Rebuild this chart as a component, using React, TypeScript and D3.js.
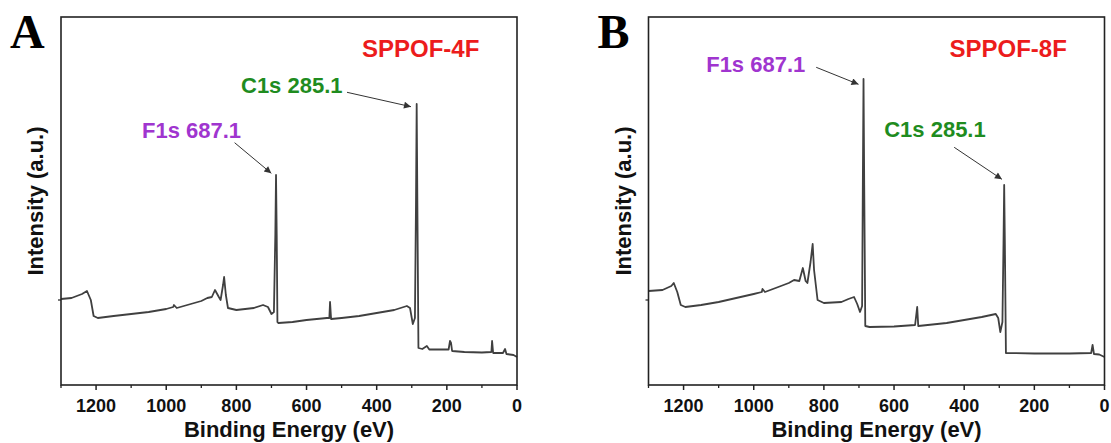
import React from 'react'
import * as d3 from 'd3'

// binding energy (eV), intensity (a.u.)
const spectrum4F: [number, number][] = [
  [1300, 86], [1270, 87], [1240, 91], [1226, 94], [1215, 85], [1207, 69], [1195, 67],
  [1150, 69], [1100, 71], [1050, 73], [1000, 76], [980, 78], [978, 80], [970, 77],
  [930, 81], [900, 84], [883, 87], [870, 88], [861, 95], [850, 88], [845, 85],
  [838, 100], [835, 108], [830, 90], [824, 77], [800, 75], [750, 77], [724, 80],
  [710, 78], [700, 71], [693, 73], [689, 150], [687, 210], [685, 150], [683, 63],
  [680, 62], [640, 63], [600, 65], [542, 67], [535, 67], [533, 83], [530, 66],
  [500, 67], [450, 69], [400, 72], [350, 75], [314, 79], [305, 77], [297, 61],
  [291, 67], [288, 180], [286, 281], [284, 180], [281, 37], [270, 36], [257, 39],
  [250, 35.5], [195, 35.5], [191, 44], [188, 42], [185, 34], [150, 33], [100, 32.5],
  [73, 33], [71, 44], [68, 32], [40, 32], [34, 36], [30, 31], [10, 30], [0, 28],
]

const spectrum8F: [number, number][] = [
  [1300, 94], [1260, 95], [1235, 99], [1228, 102], [1218, 93], [1208, 80], [1195, 78],
  [1150, 80], [1100, 83], [1050, 87], [1000, 91], [977, 93], [975, 96], [968, 93],
  [930, 98], [900, 102], [885, 105], [870, 104], [860, 117], [852, 104], [847, 102],
  [838, 123], [832, 141], [828, 115], [818, 85], [800, 82], [750, 83], [730, 86],
  [714, 88], [705, 81], [697, 73], [691, 79], [689, 200], [687, 306], [685, 200],
  [682, 59], [670, 58], [600, 58.5], [540, 60], [534, 78], [531, 59], [450, 62],
  [400, 65], [350, 68], [310, 71], [303, 67], [297, 53], [291, 63], [288, 140],
  [286, 200], [284, 140], [281, 32], [200, 31.5], [100, 31.5], [38, 32], [34, 40],
  [30, 31], [15, 30.5], [0, 28],
]

const energyTicks = [1200, 1000, 800, 600, 400, 200, 0]
const minorTicks = [1300, 1100, 900, 700, 500, 300, 100]

const GREEN = '#1f8c1f'
const PURPLE = '#a035cf'
const RED = '#ec1c1c'

const panels = [
  {
    letter: 'A',
    sample: 'SPPOF-4F',
    data: spectrum4F,
    left: 61,
    notes: [
      { text: 'C1s 285.1', color: GREEN, x: 180, y: 75.5, from: [286, 75.3], to: [350, 89.7] },
      { text: 'F1s 687.1', color: PURPLE, x: 81, y: 121, from: [173.6, 125.7], to: [210.3, 156.3] },
    ],
  },
  {
    letter: 'B',
    sample: 'SPPOF-8F',
    data: spectrum8F,
    left: 648.5,
    notes: [
      { text: 'F1s 687.1', color: PURPLE, x: 57.7, y: 55.3, from: [167.7, 50.3], to: [210, 67.3] },
      { text: 'C1s 285.1', color: GREEN, x: 235.7, y: 119.7, from: [305.7, 130.3], to: [353.4, 162.3] },
    ],
  },
]

const W = 456
const H = 368
const TOP = 17
const sans = '"Liberation Sans", Arial, sans-serif'

const Panel = ({ p }: { p: (typeof panels)[number] }) => {
  const x = d3.scaleLinear().domain([1300, 0]).range([0, W])
  const y = d3.scaleLinear().domain([0, 368]).range([H, 0])
  const path = d3
    .line<[number, number]>()
    .x((d) => x(d[0]))
    .y((d) => y(d[1]))(p.data)

  return (
    <g transform={`translate(${p.left},${TOP})`}>
      <text x={-51} y={31} fontFamily='"Liberation Serif", "Times New Roman", serif' fontWeight="bold" fontSize={48} fill="#000">
        {p.letter}
      </text>
      <path d={path || ''} fill="none" stroke="#404040" strokeWidth={1.8} strokeLinejoin="round" />
      <rect x={0} y={0} width={W} height={H} fill="none" stroke="#222" strokeWidth={1.6} />
      <line x1={0} x2={-3} y1={y(85)} y2={y(85)} stroke="#222" strokeWidth={1.2} />
      {energyTicks.map((t) => (
        <g key={t} transform={`translate(${x(t)},${H})`}>
          <line y2={5} stroke="#222" strokeWidth={1.5} />
          <text y={26.7} textAnchor="middle" fontFamily={sans} fontWeight="bold" fontSize={18} fill="#111">
            {t}
          </text>
        </g>
      ))}
      {minorTicks.map((t) => (
        <line key={t} x1={x(t)} x2={x(t)} y1={H} y2={H + 3} stroke="#222" strokeWidth={1.3} />
      ))}
      <text x={W / 2} y={H + 52} textAnchor="middle" fontFamily={sans} fontWeight="bold" fontSize={22} fill="#111">
        Binding Energy (eV)
      </text>
      <text
        transform={`translate(-18,${H / 2}) rotate(-90)`}
        textAnchor="middle"
        fontFamily={sans}
        fontWeight="bold"
        fontSize={22}
        fill="#111"
      >
        Intensity (a.u.)
      </text>
      <text x={301} y={39.7} fontFamily={sans} fontWeight="bold" fontSize={24} fill={RED}>
        {p.sample}
      </text>
      {p.notes.map((n) => (
        <g key={n.text}>
          <text x={n.x} y={n.y} fontFamily={sans} fontWeight="bold" fontSize={22} fill={n.color}>
            {n.text}
          </text>
          <line
            x1={n.from[0]}
            y1={n.from[1]}
            x2={n.to[0]}
            y2={n.to[1]}
            stroke="#333"
            strokeWidth={1}
            markerEnd="url(#arrow)"
          />
        </g>
      ))}
    </g>
  )
}

export default function App() {
  return (
    <svg width={1111} height={443} style={{ position: 'absolute', left: 0, top: 0, background: '#fff' }}>
      <defs>
        <marker id="arrow" viewBox="0 0 10 10" refX={10} refY={5} markerWidth={9} markerHeight={7} markerUnits="userSpaceOnUse" orient="auto">
          <path d="M0,0 L10,5 L0,10 z" fill="#333" />
        </marker>
      </defs>
      <rect width={1111} height={443} fill="#fff" />
      {panels.map((p) => (
        <Panel key={p.letter} p={p} />
      ))}
    </svg>
  )
}
